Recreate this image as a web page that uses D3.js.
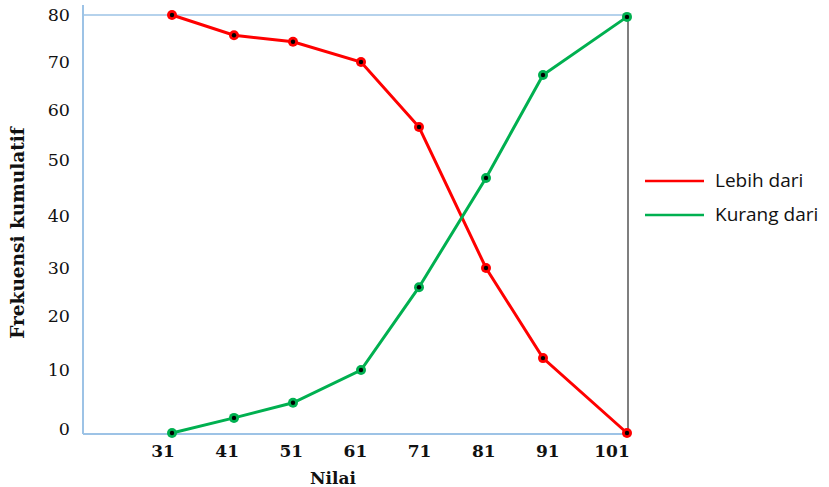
<!DOCTYPE html>
<html>
  <head>
    <script src="https://d3js.org/d3.v7.min.js"></script>
    <style>
      body { margin: 0; background: #fff; }
    </style>
  </head>
  <body>
  <div id='chart'></div>

    <script type="text/javascript">

var w = 829,
    h = 487;

// data
var nilai = [31, 41, 51, 61, 71, 81, 91, 101];
var lebihDari = [80, 75.7, 74.3, 70, 56.6, 30, 12.2, 0];
var kurangDari = [0, 2.4, 4.8, 10, 26, 46.8, 67.3, 79.6];
var yTicks = [0, 10, 20, 30, 40, 50, 60, 70, 80];
// the original axes are hand spaced, so both scales are piecewise
var yTickPos = [433, 370, 316, 268, 216, 160, 110, 62, 15];
var xPointPos = [172, 234, 293, 361, 419, 486, 543, 627];

var x = d3.scaleLinear()
    .domain(nilai)
    .range(xPointPos);

// tick labels are spaced evenly and sit a bit left of the points
var xLabel = d3.scaleLinear()
    .domain([31, 101])
    .range([163, 612]);

var y = d3.scaleLinear()
    .domain(yTicks)
    .range(yTickPos);

var svg = d3.select("#chart").append("svg")
    .attr("width", w)
    .attr("height", h);

// frame
svg.append("line")
    .attr("x1", 83).attr("x2", 83)
    .attr("y1", 5).attr("y2", 434)
    .attr("stroke", "#9dc3e6").attr("stroke-width", 2);
svg.append("line")
    .attr("x1", 83).attr("x2", x(101))
    .attr("y1", y(80)).attr("y2", y(80))
    .attr("stroke", "#9dc3e6").attr("stroke-width", 1.5);
svg.append("line")
    .attr("x1", 83).attr("x2", x(101) + 2)
    .attr("y1", 434).attr("y2", 434)
    .attr("stroke", "#9dc3e6").attr("stroke-width", 2);
svg.append("line")
    .attr("x1", x(101) + 1).attr("x2", x(101) + 1)
    .attr("y1", 17).attr("y2", 432)
    .attr("stroke", "#7f7f7f").attr("stroke-width", 2);

// y tick labels
svg.append("g").selectAll("text")
    .data(yTicks)
    .enter().append("text")
    .attr("x", 70)
    .attr("y", function(d) { return d == 0 ? y(d) - 4 : y(d); })
    .attr("dy", "0.35em")
    .attr("text-anchor", "end")
    .attr("font-family", "DejaVu Serif")
    .attr("font-size", "17.5px")
    .attr("fill", "#111")
    .text(function(d) { return d; });

// x tick labels
svg.append("g").selectAll("text")
    .data(nilai)
    .enter().append("text")
    .attr("x", function(d) { return xLabel(d); })
    .attr("y", 457)
    .attr("text-anchor", "middle")
    .attr("font-family", "DejaVu Serif")
    .attr("font-weight", "bold")
    .attr("font-size", "17px")
    .attr("fill", "#111")
    .text(function(d) { return d; });

svg.append("text")
    .attr("x", 333)
    .attr("y", 484)
    .attr("text-anchor", "middle")
    .attr("font-family", "DejaVu Serif")
    .attr("font-weight", "bold")
    .attr("font-size", "17px")
    .attr("fill", "#111")
    .text("Nilai");

svg.append("text")
    .attr("transform", "translate(24,233) rotate(-90)")
    .attr("text-anchor", "middle")
    .attr("font-family", "DejaVu Serif")
    .attr("font-weight", "bold")
    .attr("font-size", "18.5px")
    .attr("fill", "#111")
    .text("Frekuensi kumulatif");

var series = [
  {name: "Lebih dari", values: lebihDari, color: "#ff0000"},
  {name: "Kurang dari", values: kurangDari, color: "#00b050"}
];

var line = d3.line()
    .x(function(d) { return x(d[0]); })
    .y(function(d) { return y(d[1]); });

series.forEach(function(s) {
  var pts = nilai.map(function(n, i) { return [n, s.values[i]]; });
  var g = svg.append("g");
  g.append("path")
      .attr("d", line(pts))
      .attr("fill", "none")
      .attr("stroke", s.color)
      .attr("stroke-width", 3);
  g.selectAll("circle.m")
      .data(pts)
      .enter().append("circle")
      .attr("cx", function(d) { return x(d[0]); })
      .attr("cy", function(d) { return y(d[1]); })
      .attr("r", 5)
      .attr("fill", s.color);
  g.selectAll("circle.c")
      .data(pts)
      .enter().append("circle")
      .attr("cx", function(d) { return x(d[0]); })
      .attr("cy", function(d) { return y(d[1]); })
      .attr("r", 2.2)
      .attr("fill", "#000");
});

// legend
var legend = svg.append("g")
    .selectAll("g")
    .data(series)
    .enter().append("g")
    .attr("transform", function(d, i) { return "translate(645," + (181 + i * 34) + ")"; });
legend.append("line")
    .attr("x1", 0).attr("x2", 59)
    .attr("stroke", function(d) { return d.color; })
    .attr("stroke-width", 2.5);
legend.append("text")
    .attr("x", 70)
    .attr("y", 6)
    .attr("font-family", "Open Sans")
    .attr("font-size", "19px")
    .attr("fill", "#111")
    .text(function(d) { return d.name; });

    </script>
  </body>
</html>
